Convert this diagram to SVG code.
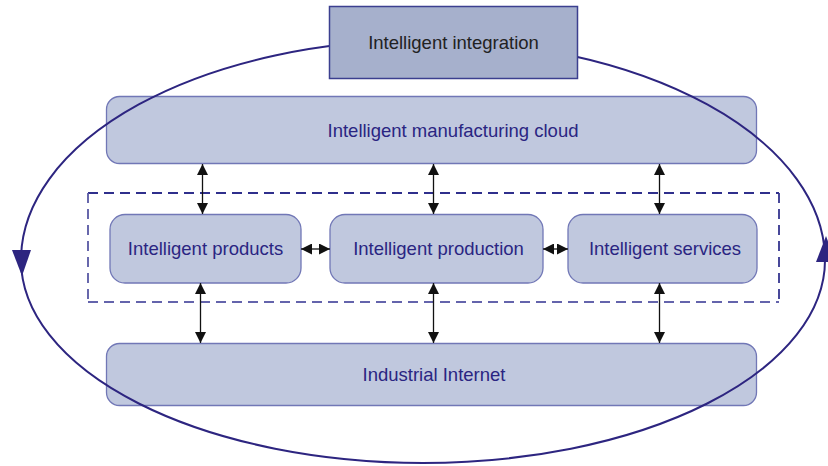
<svg xmlns="http://www.w3.org/2000/svg" width="828" height="466" viewBox="0 0 828 466">
<defs>
<marker id="ah" viewBox="0 0 10 10" refX="10" refY="5" markerWidth="11" markerHeight="11" markerUnits="userSpaceOnUse" orient="auto-start-reverse">
<path d="M0,0 L10,5 L0,10 Z" fill="#111"/>
</marker>
<style>
.lay{fill:#c0c8de;stroke:#7177b6;stroke-width:1.3}
.txt{font-family:"Liberation Sans",Arial,sans-serif;font-size:18.5px;fill:#2a2582;text-anchor:middle;dominant-baseline:central}
.con{stroke:#111;stroke-width:1.3;fill:none;marker-start:url(#ah);marker-end:url(#ah)}
.cyc{fill:none;stroke:#2d2580;stroke-width:2}
.cyh{fill:#2d2580}
.dash{stroke-width:1.8;stroke-dasharray:10 6;fill:none}
</style>
</defs>
<rect width="828" height="466" fill="#fff"/>
<g id="cloud">
<rect class="lay" x="106.5" y="96.5" width="650" height="67" rx="13"/>
<text class="txt" x="453" y="130">Intelligent manufacturing cloud</text>
</g>
<g id="internet">
<rect class="lay" x="106.5" y="343.5" width="650" height="62" rx="13"/>
<text class="txt" x="434" y="374">Industrial Internet</text>
</g>
<g id="frame">
<line class="dash" x1="88" y1="193" x2="779" y2="193" stroke="#2f2f8c"/>
<line class="dash" x1="779" y1="193" x2="779" y2="302" stroke="#35358f"/>
<line class="dash" x1="88" y1="302" x2="779" y2="302" stroke="#6464ac"/>
<line class="dash" x1="88" y1="193" x2="88" y2="302" stroke="#5858a4"/>
</g>
<g id="products">
<rect class="lay" x="110" y="214.5" width="191" height="68.5" rx="15"/>
<text class="txt" x="205.5" y="248">Intelligent products</text>
</g>
<g id="production">
<rect class="lay" x="330" y="214.5" width="213" height="68.5" rx="15"/>
<text class="txt" x="438.5" y="248">Intelligent production</text>
</g>
<g id="services">
<rect class="lay" x="568" y="214.5" width="189" height="68.5" rx="15"/>
<text class="txt" x="665" y="248">Intelligent services</text>
</g>
<g id="connectors">
<line class="con" x1="202.5" y1="164" x2="202.5" y2="214"/>
<line class="con" x1="433.5" y1="164" x2="433.5" y2="214"/>
<line class="con" x1="659.5" y1="164" x2="659.5" y2="214"/>
<line class="con" x1="200.5" y1="283" x2="200.5" y2="343"/>
<line class="con" x1="433.5" y1="283" x2="433.5" y2="343"/>
<line class="con" x1="659.5" y1="283" x2="659.5" y2="343"/>
<line class="con" x1="301" y1="249" x2="330" y2="249"/>
<line class="con" x1="543" y1="249" x2="568" y2="249"/>
</g>
<g id="cycle">
<path class="cyc" d="M 21 260 A 402 220 0 0 1 825 260 A 402 203 0 0 1 21 260 Z"/>
<polygon class="cyh" points="12,250 31,250 22,276"/>
<polygon class="cyh" points="816,262 836,262 826,236"/>
</g>
<g id="integration">
<rect x="329.5" y="6.5" width="248" height="72" fill="#a6b0cc" stroke="#3b3f8f" stroke-width="1.5"/>
<text class="txt" x="453.5" y="42" style="fill:#222">Intelligent integration</text>
</g>
</svg>
